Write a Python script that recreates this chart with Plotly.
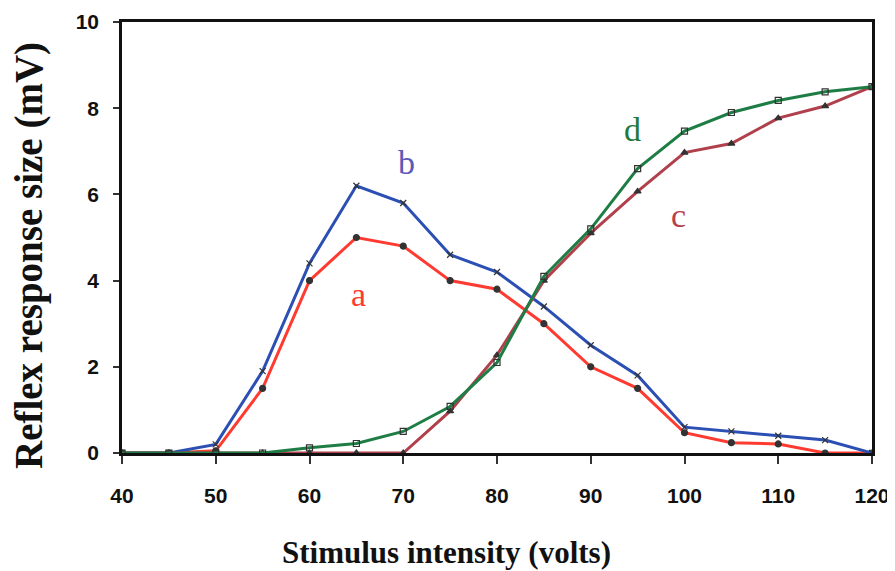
import plotly.graph_objects as go

volts = [40, 45, 50, 55, 60, 65, 70, 75, 80, 85, 90, 95, 100, 105, 110, 115, 120]
series_a = [0, 0, 0.05, 1.5, 4.0, 5.0, 4.8, 4.0, 3.8, 3.0, 2.0, 1.5, 0.47, 0.24, 0.21, 0, 0]
series_b = [0, 0, 0.2, 1.9, 4.4, 6.2, 5.8, 4.6, 4.2, 3.4, 2.5, 1.8, 0.6, 0.5, 0.4, 0.3, 0]
series_c = [0, 0, 0, 0, 0, 0, 0, 0.97, 2.27, 4.0, 5.1, 6.07, 6.97, 7.18, 7.77, 8.05, 8.5]
series_d = [0, 0, 0, 0, 0.12, 0.22, 0.5, 1.08, 2.1, 4.1, 5.2, 6.6, 7.47, 7.9, 8.18, 8.38, 8.5]
labels = ["a", "b", "c", "d"]
label_x = [65.2, 70.3, 99.4, 94.4]
label_y = [3.67, 6.73, 5.5, 7.5]

colors = {"a": "#ff3a30", "b": "#2c4fb4", "c": "#b0404c", "d": "#1e7d45"}
label_colors = {"a": "#ff3a30", "b": "#5a5ab8", "c": "#b8404c", "d": "#1e7a3a"}
symbols = {"a": "circle", "b": "x-thin", "c": "triangle-up", "d": "square-open"}

fig = go.Figure()
for name, ys in zip(labels, [series_a, series_b, series_c, series_d]):
    fig.add_trace(go.Scatter(
        x=volts, y=ys, mode="lines+markers", name=name,
        line=dict(color=colors[name], width=3),
        marker=dict(symbol=symbols[name], size=6, color="#333333",
                    line=dict(color="#333333", width=1.2)),
        showlegend=False,
    ))

for name, lx, ly in zip(labels, label_x, label_y):
    fig.add_annotation(x=lx, y=ly, text=name, showarrow=False,
                       font=dict(family="Liberation Serif", size=34, color=label_colors[name]))

title_font = dict(family="Liberation Serif", color="#111111", weight="bold")
fig.add_annotation(xref="paper", yref="paper", x=0.4327, y=-0.2297,
                   xanchor="center", yanchor="middle", showarrow=False,
                   text="Stimulus intensity (volts)", font=dict(size=31, **title_font))
fig.add_annotation(xref="paper", yref="paper", x=-0.124, y=0.457,
                   xanchor="center", yanchor="middle", showarrow=False, textangle=-90,
                   text="Reflex response size (mV)", font=dict(size=39, **title_font))

fig.update_layout(
    width=887, height=563,
    margin=dict(l=114, r=23, t=14, b=118, autoexpand=False),
    plot_bgcolor="white", paper_bgcolor="white",
)
fig.update_xaxes(
    range=[40, 120], tickvals=[40, 50, 60, 70, 80, 90, 100, 110, 120],
    showgrid=False, zeroline=False, showline=True, mirror=True, automargin=False,
    linecolor="#111111", linewidth=2.5,
    ticks="outside", ticklen=8, tickcolor="#333333", tickwidth=1.5,
    ticklabelstandoff=14,
    tickfont=dict(family="Liberation Sans", size=21, color="#111111", weight="bold"),
)
fig.update_yaxes(
    range=[0, 10], tickvals=[0, 2, 4, 6, 8, 10],
    showgrid=False, zeroline=False, showline=True, mirror=True, automargin=False,
    linecolor="#111111", linewidth=2.5,
    ticks="outside", ticklen=6, tickcolor="#333333", tickwidth=1.5,
    ticklabelstandoff=10,
    tickfont=dict(family="Liberation Sans", size=21, color="#111111", weight="bold"),
)

fig.write_html("out.html")
